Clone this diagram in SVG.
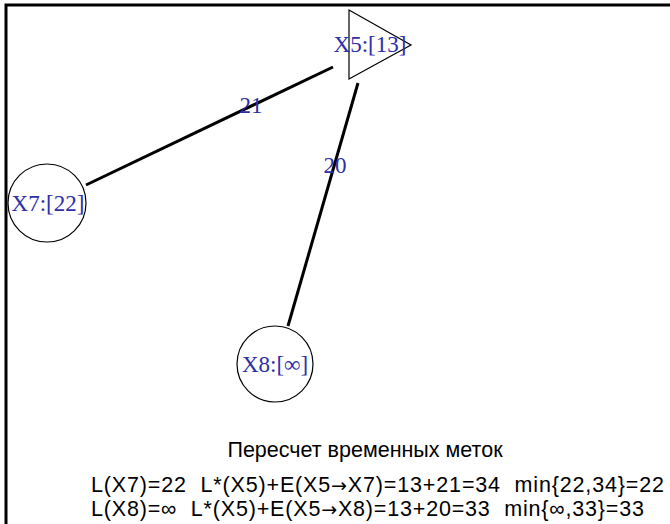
<svg xmlns="http://www.w3.org/2000/svg" width="670" height="524" viewBox="0 0 670 524">
<style>
.node{fill:#fff;stroke:#000;stroke-width:1.2}
.lbl{font-family:"Liberation Serif","Times New Roman",serif;font-size:23px;fill:#2e2ea8;text-anchor:middle}
.edge{stroke:#000;stroke-width:3;fill:none}
.cap{font-family:"Liberation Sans",Arial,sans-serif;font-size:21.5px;fill:#000;white-space:pre}
.arw{font-family:"DejaVu Sans",sans-serif;font-size:19px}
</style>
<rect width="670" height="524" fill="#fff"/>
<!-- frame -->
<path d="M6,524 V5 H670" fill="none" stroke="#000" stroke-width="3"/>
<g id="edges">
  <line class="edge" x1="86" y1="185" x2="333" y2="67"/>
  <line class="edge" x1="288" y1="326" x2="358" y2="83"/>
  <text class="lbl" x="251" y="113">21</text>
  <text class="lbl" x="335" y="173">20</text>
</g>
<g id="X5">
  <polygon class="node" points="349,10 349,79 411,45"/>
  <text class="lbl" x="370" y="52">X5:[13]</text>
</g>
<g id="X7">
  <circle class="node" cx="47" cy="203" r="39"/>
  <text class="lbl" x="48" y="211">X7:[22]</text>
</g>
<g id="X8">
  <circle class="node" cx="275" cy="364" r="38"/>
  <text class="lbl" x="275" y="372">X8:[∞]</text>
</g>
<g id="caption">
  <text class="cap" x="365" y="457" text-anchor="middle">Пересчет временных меток</text>
  <text class="cap" x="91" y="492" textLength="573" lengthAdjust="spacing">L(X7)=22  L*(X5)+E(X5<tspan class="arw">→</tspan>X7)=13+21=34  min{22,34}=22</text>
  <text class="cap" x="91" y="516" textLength="553" lengthAdjust="spacing">L(X8)=∞  L*(X5)+E(X5<tspan class="arw">→</tspan>X8)=13+20=33  min{∞,33}=33</text>
</g>
</svg>
